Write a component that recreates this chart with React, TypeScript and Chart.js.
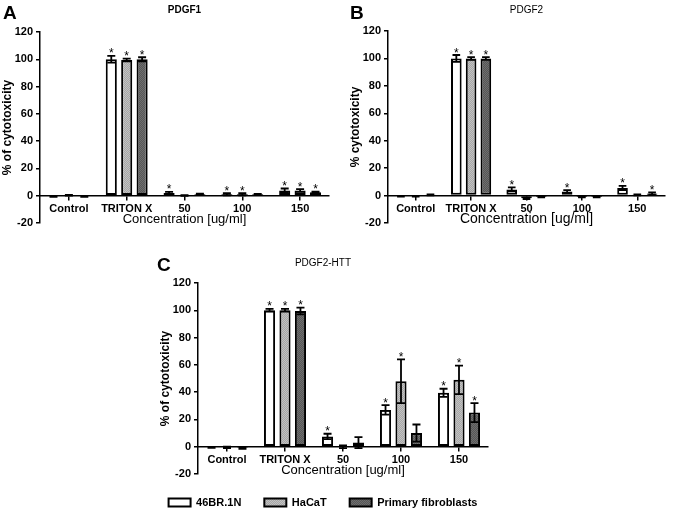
import React, { useEffect, useRef } from "react";
import { Chart, registerables } from "chart.js";
Chart.register(...registerables);

const FONT = "Arial, 'Liberation Sans', sans-serif";
Chart.defaults.font.family = FONT;
Chart.defaults.color = "#000";

// ---- shared ----
const categories = ["Control", "TRITON X", "50", "100", "150"];
const seriesNames = ["46BR.1N", "HaCaT", "Primary fibroblasts"];
const seriesColors: [string, string][] = [
  ["#ffffff", "#ffffff"],
  ["#a6a6a6", "#c2c2c2"],
  ["#565656", "#6e6e6e"],
];
const yMin = -20;
const yMax = 120;
const yStep = 20;
const xTitle = "Concentration [ug/ml]";

// ---- Panel A: PDGF1 ----
const a46 = [-0.5, 100, 2, 1, 3.8];
const aHa = [0.3, 99.5, 0.2, 1, 3.8];
const aPr = [-0.5, 100, 1, 1, 2.5];
const a46Err = [0.3, 2.5, 0.8, 0.8, 1.5];
const aHaErr = [0.3, 1, 0.3, 0.8, 1];
const aPrErr = [0.3, 1.5, 0.5, 0.3, 0.5];
const a46Sig = [0, 1, 1, 1, 1];
const aHaSig = [0, 1, 0, 1, 1];
const aPrSig = [0, 1, 0, 0, 1];

// ---- Panel B: PDGF2 ----
const b46 = [-0.5, 100, 4.5, 3, 5.5];
const bHa = [-0.5, 100, -2, -1, 0.5];
const bPr = [0.5, 100, -1, -1, 1.5];
const b46Err = [0.3, 2.5, 1.5, 1, 1.5];
const bHaErr = [0.3, 1, 0.5, 0.3, 0.3];
const bPrErr = [0.3, 1, 0.3, 0.3, 0.8];
const b46Sig = [0, 1, 1, 1, 1];
const bHaSig = [0, 1, 0, 0, 0];
const bPrSig = [0, 1, 0, 0, 1];

// ---- Panel C: PDGF2-HTT ----
const c46 = [-0.5, 100, 7.5, 27, 39.5];
const cHa = [-0.5, 100, 0, 48, 49];
const cPr = [-1, 99.5, 3, 10, 25];
const c46Err = [0.3, 1, 2, 3.5, 3];
const cHaErr = [0.5, 1, 1, 16, 10.5];
const cPrErr = [0.5, 2.5, 4, 6.3, 7];
const c46Sig = [0, 1, 1, 1, 1];
const cHaSig = [0, 1, 0, 1, 1];
const cPrSig = [0, 1, 0, 0, 1];

function makeFill(pair: [string, string]): any {
  if (pair[0] === pair[1]) return pair[0];
  const c = document.createElement("canvas");
  c.width = 2;
  c.height = 2;
  const g = c.getContext("2d");
  if (!g) return pair[0];
  g.fillStyle = pair[0];
  g.fillRect(0, 0, 2, 2);
  g.fillStyle = pair[1];
  g.fillRect(0, 0, 1, 1);
  g.fillRect(1, 1, 1, 1);
  const pat = g.createPattern(c, "repeat");
  return pat || pair[0];
}

const errorBarPlugin = {
  id: "errorBars",
  afterDatasetsDraw(chart: any) {
    const ctx = chart.ctx;
    const ys = chart.scales.y;
    chart.data.datasets.forEach((ds: any, di: number) => {
      const meta = chart.getDatasetMeta(di);
      meta.data.forEach((el: any, i: number) => {
        const v = ds.data[i];
        const e = ds.errors[i];
        const x = el.x;
        const cap = el.width * 0.36;
        const yTop = ys.getPixelForValue(v + e);
        const yBot = ys.getPixelForValue(v - e);
        ctx.save();
        ctx.strokeStyle = "#000";
        ctx.lineWidth = 1.8;
        ctx.beginPath();
        ctx.moveTo(x, yTop);
        ctx.lineTo(x, yBot);
        ctx.moveTo(x - cap, yTop);
        ctx.lineTo(x + cap, yTop);
        ctx.moveTo(x - cap, yBot);
        ctx.lineTo(x + cap, yBot);
        ctx.stroke();
        if (ds.sig[i]) {
          ctx.fillStyle = "#000";
          ctx.font = "12px " + FONT;
          ctx.textAlign = "center";
          ctx.textBaseline = "alphabetic";
          const top = Math.min(yTop, ys.getPixelForValue(Math.max(v, 0)));
          ctx.fillText("*", x, top + 1.5);
        }
        ctx.restore();
      });
    });
  },
};

type Panel = {
  title: string;
  titleBold: boolean;
  titleFull: boolean;
  titlePad: { top: number; bottom: number };
  yTitle: string;
  yTitlePad: number;
  yWidth: number;
  rightSpacer: number;
  xTitleSize: number;
  values: number[][];
  errors: number[][];
  sig: number[][];
  padding: { left: number; right: number; top: number; bottom: number };
  legend: boolean;
};

function makeConfig(p: Panel): any {
  const scales: any = {
    x: {
      position: { y: 0 },
      offset: true,
      grid: {
        display: true,
        drawOnChartArea: false,
        drawTicks: true,
        tickLength: 4,
        offset: false,
        color: "#000",
        lineWidth: 1.5,
      },
      border: { display: true, color: "#000", width: 1.5 },
      ticks: {
        font: { size: 11, weight: "bold" },
        color: "#000",
        padding: 3,
        maxRotation: 0,
        autoSkip: false,
      },
      title: {
        display: true,
        text: xTitle,
        color: "#000",
        font: { size: p.xTitleSize },
        padding: 0,
      },
      afterFit: (s: any) => {
        s.height = 32;
      },
    },
    y: {
      min: yMin,
      max: yMax,
      ticks: {
        stepSize: yStep,
        font: { size: 11, weight: "bold" },
        color: "#000",
        padding: 3,
      },
      grid: {
        drawOnChartArea: false,
        drawTicks: true,
        tickLength: 4,
        color: "#000",
        lineWidth: 1.5,
      },
      border: { display: true, color: "#000", width: 1.5 },
      title: {
        display: true,
        text: p.yTitle,
        color: "#000",
        font: { size: 12, weight: "bold" },
        padding: { top: p.yTitlePad, bottom: 0 },
      },
      afterFit: (s: any) => {
        s.width = p.yWidth;
      },
    },
  };
  if (p.rightSpacer > 0) {
    scales.spacer = {
      type: "linear",
      axis: "y",
      position: "right",
      display: true,
      grid: { display: false, drawTicks: false },
      ticks: { display: false },
      border: { display: false },
      title: { display: false },
      afterFit: (s: any) => {
        s.width = p.rightSpacer;
      },
    };
  }
  return {
    type: "bar",
    data: {
      labels: categories,
      datasets: seriesNames.map((name, k) => ({
        label: name,
        data: p.values[k],
        errors: p.errors[k],
        sig: p.sig[k],
        xAxisID: "x",
        yAxisID: "y",
        backgroundColor: makeFill(seriesColors[k]),
        borderColor: "#000",
        borderWidth: 2,
        borderSkipped: false,
        categoryPercentage: 0.8,
        barPercentage: 0.72,
      })),
    },
    options: {
      animation: false,
      responsive: false,
      devicePixelRatio: 1,
      layout: { padding: p.padding },
      plugins: {
        legend: p.legend
          ? {
              display: true,
              position: "bottom",
              labels: {
                boxWidth: 22,
                boxHeight: 8,
                padding: 23,
                color: "#000",
                font: { size: 11, weight: "bold" },
              },
            }
          : { display: false },
        title: {
          display: true,
          text: p.title,
          color: "#000",
          fullSize: p.titleFull,
          font: { size: 10, weight: p.titleBold ? "bold" : "normal" },
          padding: p.titlePad,
        },
        tooltip: { enabled: false },
      },
      scales,
    },
    plugins: [errorBarPlugin],
  };
}

const panelA: Panel = {
  title: "PDGF1",
  titleBold: true,
  titleFull: false,
  titlePad: { top: 4, bottom: 16 },
  yTitle: "% of cytotoxicity",
  yTitlePad: 0,
  yWidth: 40,
  rightSpacer: 0,
  xTitleSize: 13,
  values: [a46, aHa, aPr],
  errors: [a46Err, aHaErr, aPrErr],
  sig: [a46Sig, aHaSig, aPrSig],
  padding: { left: 0, right: 6, top: 0, bottom: 20 },
  legend: false,
};

const panelB: Panel = {
  title: "PDGF2",
  titleBold: false,
  titleFull: false,
  titlePad: { top: 4, bottom: 15 },
  yTitle: "% cytotoxicity",
  yTitlePad: 0,
  yWidth: 40,
  rightSpacer: 0,
  xTitleSize: 14,
  values: [b46, bHa, bPr],
  errors: [b46Err, bHaErr, bPrErr],
  sig: [b46Sig, bHaSig, bPrSig],
  padding: { left: 8, right: 5, top: 0, bottom: 20 },
  legend: false,
};

const panelC: Panel = {
  title: "PDGF2-HTT",
  titleBold: false,
  titleFull: true,
  titlePad: { top: 7, bottom: 14 },
  yTitle: "% of cytotoxicity",
  yTitlePad: 28,
  yWidth: 68,
  rightSpacer: 28,
  xTitleSize: 13,
  values: [c46, cHa, cPr],
  errors: [c46Err, cHaErr, cPrErr],
  sig: [c46Sig, cHaSig, cPrSig],
  padding: { left: 0, right: 0, top: 0, bottom: 0 },
  legend: true,
};

function ChartBox(props: { panel: Panel; left: number; top: number; width: number; height: number }) {
  const ref = useRef<HTMLCanvasElement | null>(null);
  useEffect(() => {
    if (!ref.current) return;
    const chart = new Chart(ref.current, makeConfig(props.panel));
    return () => chart.destroy();
  }, []);
  return (
    <canvas
      ref={ref}
      width={props.width}
      height={props.height}
      style={{ position: "absolute", left: props.left, top: props.top, width: props.width, height: props.height }}
    />
  );
}

const letterStyle = (left: number, top: number): React.CSSProperties => ({
  position: "absolute",
  left,
  top,
  fontFamily: FONT,
  fontWeight: "bold",
  fontSize: 19,
  lineHeight: "19px",
  color: "#000",
});

export default function App() {
  return (
    <div
      style={{
        position: "fixed",
        left: 0,
        top: 0,
        width: 680,
        height: 512,
        overflow: "hidden",
        background: "#fff",
      }}
    >
      <ChartBox panel={panelA} left={0} top={0} width={335} height={243} />
      <ChartBox panel={panelB} left={340} top={0} width={330} height={243} />
      <ChartBox panel={panelC} left={130} top={250} width={386} height={268} />
      <div style={letterStyle(3, 2.5)}>A</div>
      <div style={letterStyle(350, 2.5)}>B</div>
      <div style={letterStyle(157, 254.5)}>C</div>
    </div>
  );
}
